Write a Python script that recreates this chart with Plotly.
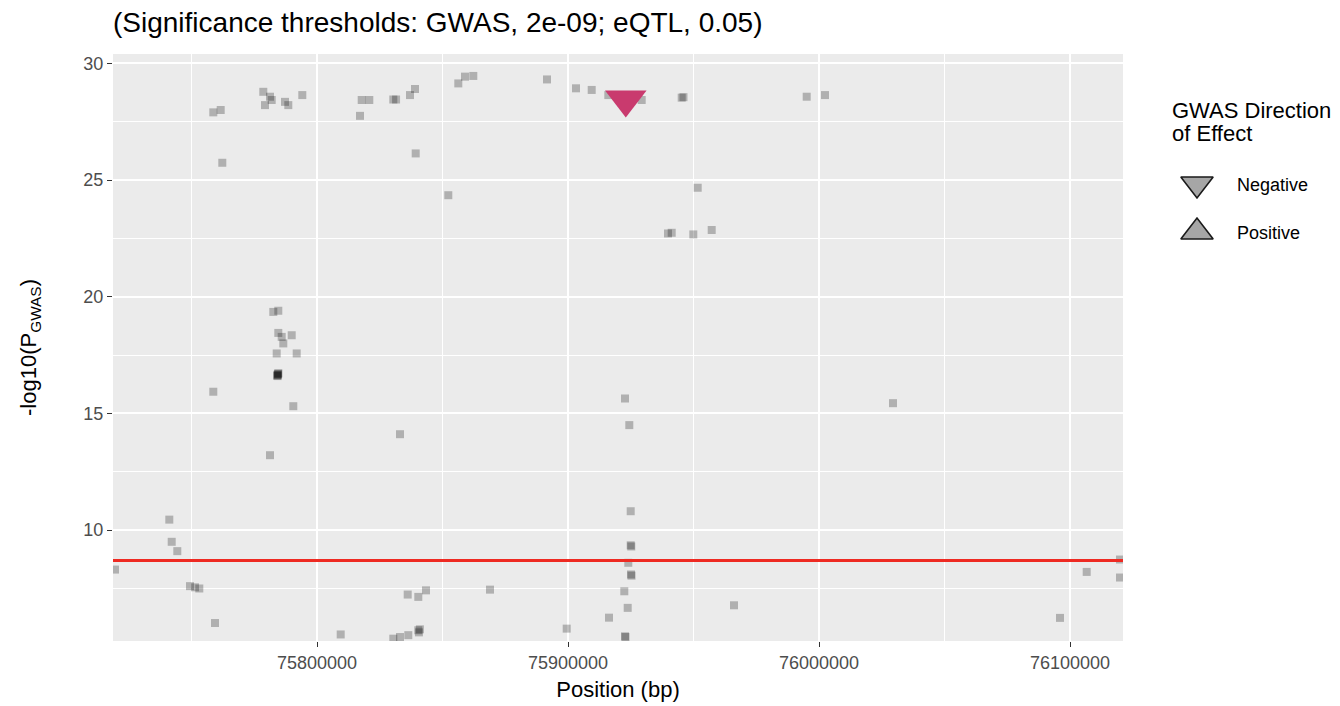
import math
import plotly.graph_objects as go

# ---------------- data ----------------
# SNP genomic positions (bp) and -log10(P_GWAS)
snp_pos = [
    75758686, 75761634, 75762272, 75778606, 75779283, 75781275, 75781952, 75787251,
    75788566, 75794144, 75817131, 75817808, 75820836, 75830398, 75831500, 75837051,
    75839043, 75839322, 75852310, 75856294, 75858963, 75862270, 75891632, 75903186,
    75909440, 75916054, 75929360, 75945296, 75946000, 75995097, 76002387, 75951671,
    75939838, 75941312, 75949918, 75957248,
    75782590, 75784582, 75784582, 75785936, 75789920, 75786574, 75783944, 75791912,
    75784343, 75784343, 75784600, 75784100, 75784500, 75784343,
    75758686, 75790558, 75781275, 75833067, 76029478,
    75922707, 75924420, 75924978, 75924978, 75925200, 75924022, 75925098, 75925300,
    75922428, 75923783, 75916333, 75899480, 75922707, 75922900,
    75741156, 75742112, 75744344, 75719523, 75749403, 75751395, 75753108, 75759363,
    75809442, 75836135, 75840358, 75843426, 75840358, 75840600, 75841000, 75836374,
    75833067, 75830398, 75868923, 75966133, 76106649, 76119915, 76096011, 76119915,
]
snp_logp = [
    27.90, 28.00, 25.74, 28.78, 28.21, 28.57, 28.43, 28.35,
    28.21, 28.64, 27.75, 28.43, 28.43, 28.45, 28.45, 28.64,
    28.90, 26.14, 24.35, 29.14, 29.43, 29.46, 29.31, 28.93,
    28.86, 28.64, 28.43, 28.53, 28.55, 28.57, 28.64, 24.67,
    22.71, 22.74, 22.67, 22.86,
    19.35, 19.40, 18.45, 18.28, 18.35, 18.00, 17.57, 17.57,
    16.60, 16.67, 16.72, 16.62, 16.70, 16.65,
    15.93, 15.31, 13.21, 14.11, 15.44,
    15.64, 14.50, 10.81, 9.35, 9.30, 8.60, 8.10, 8.05,
    7.38, 6.67, 6.25, 5.78, 5.45, 5.42,
    10.45, 9.50, 9.10, 8.31, 7.60, 7.55, 7.50, 6.02,
    5.53, 7.24, 7.14, 7.42, 5.71, 5.62, 5.75, 5.50,
    5.42, 5.35, 7.45, 6.78, 8.21, 7.97, 6.24, 8.74,
]

# lead SNP (negative direction of effect)
lead_pos = [75923026]
lead_logp = [28.45]

gwas_threshold = 2e-9
eqtl_threshold = 0.05

x_ticks = [75800000, 75900000, 76000000, 76100000]
y_ticks = [10, 15, 20, 25, 30]

legend_labels = ["Negative", "Positive"]
legend_symbols = ["triangle-down", "triangle-up"]

# ---------------- figure ----------------
FONT = "Liberation Sans, Arial, sans-serif"
fig = go.Figure()

fig.add_trace(go.Scatter(
    x=snp_pos, y=snp_logp, mode="markers",
    marker=dict(symbol="square", size=8, color="rgba(0,0,0,0.25)", line=dict(width=0)),
    showlegend=False, hoverinfo="skip",
))

fig.add_trace(go.Scatter(
    x=lead_pos, y=lead_logp, mode="markers",
    marker=dict(symbol="triangle-down", size=36, color="#C93A6E", line=dict(width=0)),
    showlegend=False,
))

thresh_y = -math.log10(gwas_threshold)
fig.add_shape(type="line", xref="x domain", x0=0, x1=1, yref="y", y0=thresh_y, y1=thresh_y,
              line=dict(color="#EE2A22", width=3), layer="above")

# custom legend (drawn in its own small axis system)
fig.add_shape(type="rect", xref="x2 domain", yref="y2 domain", x0=0, x1=1, y0=0, y1=1,
              fillcolor="white", line=dict(width=0), layer="below")
leg_x = [1197, 1197]
leg_y = [184, 232]
fig.add_trace(go.Scatter(
    x=leg_x, y=leg_y, mode="markers", xaxis="x2", yaxis="y2",
    marker=dict(symbol=legend_symbols, size=28, color="#A6A6A6",
                line=dict(color="#1A1A1A", width=1.6)),
    showlegend=False, hoverinfo="skip",
))
for lab, yy in zip(legend_labels, leg_y):
    fig.add_annotation(x=1235, y=yy + 1, xref="x2", yref="y2", text=lab, showarrow=False,
                       xanchor="left", yanchor="middle",
                       font=dict(family=FONT, size=18, color="#000000"))
fig.add_annotation(x=1170, y=110, xref="x2", yref="y2", text="GWAS Direction", showarrow=False,
                   xanchor="left", yanchor="middle", font=dict(family=FONT, size=22, color="#000000"))
fig.add_annotation(x=1170, y=133, xref="x2", yref="y2", text="of Effect", showarrow=False,
                   xanchor="left", yanchor="middle", font=dict(family=FONT, size=22, color="#000000"))

PW = 1340 - 113  # paper width in px
fig.update_layout(
    width=1340, height=706,
    margin=dict(l=113, r=0, t=54, b=65),
    paper_bgcolor="white",
    plot_bgcolor="#EBEBEB",
    font=dict(family=FONT, color="#000000"),
    title=dict(text="(Significance thresholds: GWAS, 2e-09; eQTL, 0.05)",
               x=0, xref="paper", xanchor="left",
               y=1 - 22 / 706, yref="container", yanchor="middle",
               font=dict(family=FONT, size=28, color="#000000")),
    xaxis=dict(
        domain=[0, (1123 - 113) / PW],
        range=[75718726, 76121110],
        tickvals=x_ticks, ticktext=[str(v) for v in x_ticks],
        showgrid=True, gridcolor="white", gridwidth=2.2,
        minor=dict(dtick=50000, tick0=75750000, showgrid=True, gridcolor="white", gridwidth=1.1, ticks=""),
        zeroline=False, showline=False,
        ticks="outside", ticklen=5, tickwidth=1.2, tickcolor="#333333",
        tickfont=dict(family=FONT, size=18, color="#4D4D4D"),
        title=dict(text="Position (bp)", font=dict(family=FONT, size=22, color="#000000"), standoff=10),
    ),
    yaxis=dict(
        range=[5.25, 30.4],
        tickvals=y_ticks,
        showgrid=True, gridcolor="white", gridwidth=2.2,
        minor=dict(dtick=2.5, tick0=0, showgrid=True, gridcolor="white", gridwidth=1.1, ticks=""),
        zeroline=False, showline=False,
        ticks="outside", ticklen=5, tickwidth=1.2, tickcolor="#333333",
        tickfont=dict(family=FONT, size=18, color="#4D4D4D"),
        title=dict(text="-log10(P<sub>GWAS</sub>)", font=dict(family=FONT, size=22, color="#000000"), standoff=40),
    ),
    xaxis2=dict(domain=[(1160 - 113) / PW, 1.0], range=[1160, 1340], visible=False,
                fixedrange=True, anchor="y2"),
    yaxis2=dict(domain=[(641 - 260) / 587, (641 - 90) / 587], range=[260, 90], visible=False,
                fixedrange=True, anchor="x2"),
    showlegend=False,
)

fig.write_html("out.html")
